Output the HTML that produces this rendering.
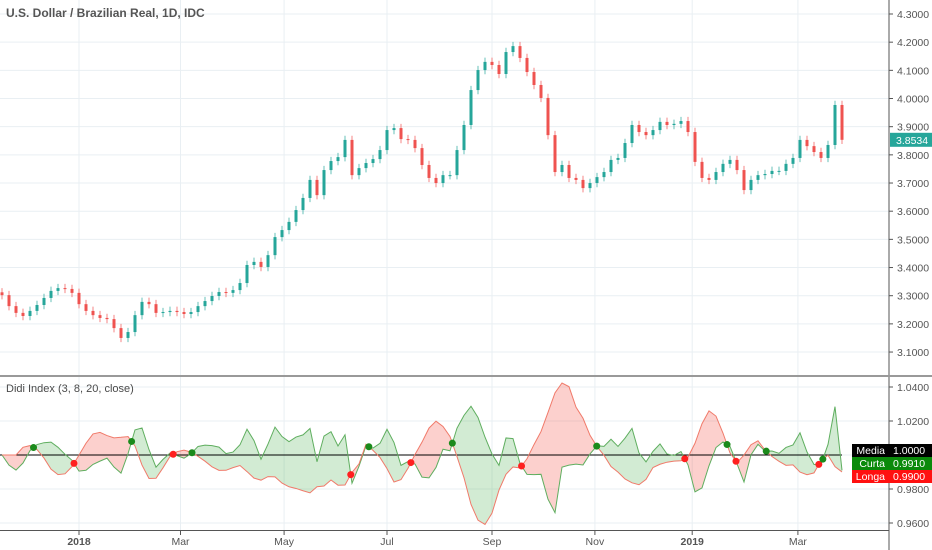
<!DOCTYPE html>
<html><head><meta charset="utf-8"><style>
html,body{margin:0;padding:0;background:#fff;}
svg{display:block;font-family:"Liberation Sans",sans-serif;}
</style></head><body>
<svg id="c" width="932" height="550" viewBox="0 0 932 550"></svg>
<script>
const closes=[3.302,3.263,3.239,3.228,3.246,3.267,3.292,3.317,3.327,3.324,3.310,3.270,3.246,3.231,3.221,3.217,3.185,3.150,3.171,3.231,3.278,3.270,3.239,3.242,3.246,3.242,3.235,3.242,3.263,3.281,3.299,3.313,3.310,3.320,3.345,3.409,3.420,3.402,3.444,3.508,3.533,3.562,3.604,3.647,3.711,3.657,3.746,3.778,3.792,3.853,3.728,3.753,3.771,3.785,3.817,3.888,3.895,3.856,3.853,3.824,3.764,3.718,3.700,3.728,3.728,3.817,3.906,4.030,4.101,4.130,4.119,4.087,4.165,4.186,4.144,4.094,4.048,4.002,3.870,3.739,3.764,3.718,3.711,3.682,3.700,3.721,3.739,3.782,3.789,3.842,3.906,3.881,3.870,3.888,3.917,3.906,3.910,3.920,3.881,3.775,3.718,3.711,3.739,3.768,3.782,3.746,3.675,3.711,3.728,3.732,3.743,3.743,3.768,3.789,3.853,3.831,3.810,3.789,3.835,3.977,3.8534];
const priceTicks=[4.3,4.2,4.1,4.0,3.9,3.8,3.7,3.6,3.5,3.4,3.3,3.2,3.1];
const didiTicks=[1.04,1.02,0.98,0.96];
const monthLabels=["2018","Mar","May","Jul","Sep","Nov","2019","Mar"];
const monthIdx=[11,25.5,40.3,55,70,84.7,98.6,113.7];
const boldLabels=["2018","2019"];
const periods=[1,3,7];

const svg=document.getElementById('c');
const NS='http://www.w3.org/2000/svg';
function mk(t,a,p){const e=document.createElementNS(NS,t);for(const k in a)e.setAttribute(k,a[k]);(p||svg).appendChild(e);return e;}
const X=i=>2+i*7;
const Y=p=>14+(4.3-p)*281.7;
const YD=v=>455-(v-1)*1700;
const AX=889;

const grid=mk('g',{});


priceTicks.forEach(p=>mk('line',{x1:0,x2:AX,y1:Y(p),y2:Y(p),stroke:'#e9eff3'},grid));
didiTicks.concat([1]).forEach(v=>mk('line',{x1:0,x2:AX,y1:YD(v),y2:YD(v),stroke:'#e9eff3'},grid));
monthIdx.forEach(m=>{mk('line',{x1:X(m),x2:X(m),y1:0,y2:530,stroke:'#e9eff3'},grid);});

const cg=mk('g',{});


closes.forEach((c,i)=>{
 const o=i?closes[i-1]:c+0.01;
 const up=c>=o;const col=up?'#26a69a':'#ef5350';
 const hi=Math.max(o,c)+0.015, lo=Math.min(o,c)-0.015;
 const g=mk('g',{},cg);
 
 
 mk('line',{x1:X(i),x2:X(i),y1:Y(hi),y2:Y(lo),stroke:col,'stroke-width':1,'stroke-opacity':0.7},g);
 const t=Y(Math.max(o,c)),b=Y(Math.min(o,c));
 mk('rect',{x:X(i)-1.5,y:t,width:3,height:Math.max(1,b-t),fill:col},g);
});

function sma(n,i){let s=0,k=0;for(let j=Math.max(0,i-n+1);j<=i;j++){s+=closes[j];k++;}return s/k;}
const curta=closes.map((c,i)=>sma(periods[0],i)/sma(periods[1],i));
const longa=closes.map((c,i)=>sma(periods[2],i)/sma(periods[1],i));
const dg=mk('g',{});


for(let i=1;i<closes.length;i++){
 const d0=curta[i-1]-longa[i-1],d1=curta[i]-longa[i];
 const pts=(a,b,ca,cb,la,lb)=>`${a},${YD(ca)} ${b},${YD(cb)} ${b},${YD(lb)} ${a},${YD(la)}`;
 if(d0*d1>=0){
  mk('polygon',{points:pts(X(i-1),X(i),curta[i-1],curta[i],longa[i-1],longa[i]),fill:(d0+d1)>=0?'rgba(76,175,80,0.25)':'rgba(244,67,54,0.25)'},dg);
 }else{
  const t=d0/(d0-d1);const xm=X(i-1)+7*t;const vm=curta[i-1]+(curta[i]-curta[i-1])*t;
  mk('polygon',{points:`${X(i-1)},${YD(curta[i-1])} ${xm},${YD(vm)} ${X(i-1)},${YD(longa[i-1])}`,fill:d0>0?'rgba(76,175,80,0.25)':'rgba(244,67,54,0.25)'},dg);
  mk('polygon',{points:`${xm},${YD(vm)} ${X(i)},${YD(curta[i])} ${X(i)},${YD(longa[i])}`,fill:d1>0?'rgba(76,175,80,0.25)':'rgba(244,67,54,0.25)'},dg);
 }
}
const media=mk('line',{x1:0,x2:X(closes.length-1),y1:YD(1),y2:YD(1),stroke:'#000','stroke-width':1});


const cl=mk('polyline',{points:curta.map((v,i)=>X(i)+','+YD(v)).join(' '),fill:'none',stroke:'#5fae5f','stroke-width':1});


const ll=mk('polyline',{points:longa.map((v,i)=>X(i)+','+YD(v)).join(' '),fill:'none',stroke:'#f07a6a','stroke-width':1});


for(let i=1;i<closes.length;i++){
 const d0=curta[i-1]-longa[i-1],d1=curta[i]-longa[i];
 if(d0*d1<0){const t=d0/(d0-d1);const xm=X(i-1)+7*t;const vm=curta[i-1]+(curta[i]-curta[i-1])*t;
  const dot=mk('circle',{cx:xm,cy:YD(vm),r:3.5,fill:d1>0?'#1b8a1b':'#ff2020'});
  
  
 }
}

mk('rect',{x:AX,y:0,width:932-AX,height:550,fill:'#fff'});
mk('rect',{x:0,y:531,width:932,height:19,fill:'#fff'});
const ax=mk('line',{x1:AX,x2:AX,y1:0,y2:550,stroke:'#555','stroke-width':1});


const sep=mk('line',{x1:0,x2:932,y1:376,y2:376,stroke:'#999','stroke-width':2});


const bx=mk('line',{x1:0,x2:AX,y1:530.5,y2:530.5,stroke:'#555','stroke-width':1});


priceTicks.forEach(p=>{mk('line',{x1:AX,x2:AX+4,y1:Y(p),y2:Y(p),stroke:'#555'});
 const t=mk('text',{x:897,y:Y(p)+4,'font-size':10.5,fill:'#555'});t.textContent=p.toFixed(4);
 });
didiTicks.forEach(v=>{mk('line',{x1:AX,x2:AX+4,y1:YD(v),y2:YD(v),stroke:'#555'});
 const t=mk('text',{x:897,y:YD(v)+4,'font-size':10.5,fill:'#555'});t.textContent=v.toFixed(4);
 });
monthLabels.forEach((m,k)=>{mk('line',{x1:X(monthIdx[k]),x2:X(monthIdx[k]),y1:531,y2:535,stroke:'#555'});
 const t=mk('text',{x:X(monthIdx[k]),y:545,'font-size':10.5,fill:'#555','text-anchor':'middle','font-weight':boldLabels.includes(m)?'bold':'normal'});t.textContent=m;
 });

const last=closes[closes.length-1];
const pl=mk('g',{});


mk('rect',{x:AX+1,y:Y(last)-7,width:42,height:14,fill:'#26a69a'},pl);
mk('text',{x:896,y:Y(last)+4,'font-size':10.5,fill:'#fff'},pl).textContent=last.toFixed(4);

const labs=[["Media",1,'#000'],["Curta",curta[curta.length-1],'#0a8a0a'],["Longa",longa[longa.length-1],'#ff1010']];
const labY=[450,463,476];
labs.forEach((l,k)=>{const g=mk('g',{});
 
 
 mk('rect',{x:852,y:labY[k]-6,width:80,height:13,fill:l[2]},g);
 mk('text',{x:885,y:labY[k]+4,'font-size':10.5,fill:'#fff','text-anchor':'end'},g).textContent=l[0];
 mk('text',{x:893,y:labY[k]+4,'font-size':10.5,fill:'#fff'},g).textContent=l[1].toFixed(4);
});

const t1=mk('text',{x:6,y:17,'font-size':12,fill:'#555','font-weight':'bold'});t1.textContent='U.S. Dollar / Brazilian Real, 1D, IDC';

const t2=mk('text',{x:6,y:392,'font-size':11,fill:'#4a4a4a'});t2.textContent='Didi Index (3, 8, 20, close)';

</script>
</body></html>
